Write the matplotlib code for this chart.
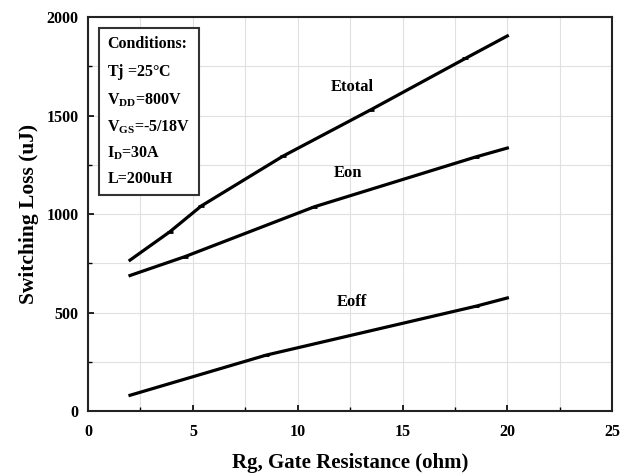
import matplotlib
matplotlib.use('Agg')
import matplotlib.pyplot as plt
from matplotlib.ticker import MultipleLocator

# data
etotal_x = [2, 3.9, 5.4, 9.3, 13.5, 18, 20]
etotal_y = [766, 910, 1041, 1294, 1530, 1790, 1904]
eon_x = [2, 4.6, 10.8, 18.5, 20]
eon_y = [688, 783, 1037, 1290, 1335]
eoff_x = [2, 8.5, 18.5, 20]
eoff_y = [80, 284, 532, 574]

conditions = ['Conditions:', r'Tj =25$\degree$C', r'V$_{\mathrm{DD}}$=800V',
              r'V$_{\mathrm{GS}}$=-5/18V', r'I$_{\mathrm{D}}$=30A', 'L=200uH']

plt.rcParams['font.family'] = 'Liberation Serif'
plt.rcParams['font.weight'] = 'bold'
plt.rcParams['mathtext.fontset'] = 'custom'
plt.rcParams['mathtext.rm'] = 'Liberation Serif:bold'
plt.rcParams['mathtext.it'] = 'Liberation Serif:bold'
plt.rcParams['mathtext.bf'] = 'Liberation Serif:bold'

fig = plt.figure(figsize=(6.36, 4.73), dpi=100)
ax = fig.add_axes([0.1385, 0.131, 0.824, 0.833])

ax.set_xlim(0, 25)
ax.set_ylim(0, 2000)
ax.xaxis.set_major_locator(MultipleLocator(5))
ax.xaxis.set_minor_locator(MultipleLocator(2.5))
ax.yaxis.set_major_locator(MultipleLocator(500))
ax.yaxis.set_minor_locator(MultipleLocator(250))
ax.grid(which='both', color='#e0e0e0', lw=0.8)
ax.set_axisbelow(True)
ax.tick_params(which='both', direction='in', top=False, right=False, labelsize=11.5)
ax.tick_params(which='major', length=4, width=1.2)
ax.tick_params(which='minor', length=3, width=1)
ax.tick_params(axis='x', which='both', pad=9)
ax.tick_params(axis='y', which='both', pad=7)
for s in ax.spines.values():
    s.set_linewidth(1.5)
    s.set_color('#222222')

for xs, ys in [(etotal_x, etotal_y), (eon_x, eon_y), (eoff_x, eoff_y)]:
    ax.plot(xs, ys, '-', color='black', lw=2.3, marker='_', ms=4, mew=2,
            markevery=list(range(1, len(xs) - 1)))

ax.text(12.6, 1645, 'Etotal', ha='center', va='center', fontsize=12)
ax.text(12.4, 1208, 'Eon', ha='center', va='center', fontsize=12)
ax.text(12.6, 553, 'Eoff', ha='center', va='center', fontsize=12)

ax.text(0.037, 0.952, '\n'.join(conditions), transform=ax.transAxes,
        ha='left', va='top', fontsize=11.5, linespacing=1.72,
        bbox=dict(boxstyle='square,pad=0.5', fc='white', ec='#333333', lw=1.5))

ax.set_xlabel('Rg, Gate Resistance (ohm)', fontsize=15, fontweight='bold', labelpad=10)
ax.set_ylabel('Switching Loss (uJ)', fontsize=15.5, fontweight='bold', labelpad=5)

fig.savefig('out.png', dpi=100)
